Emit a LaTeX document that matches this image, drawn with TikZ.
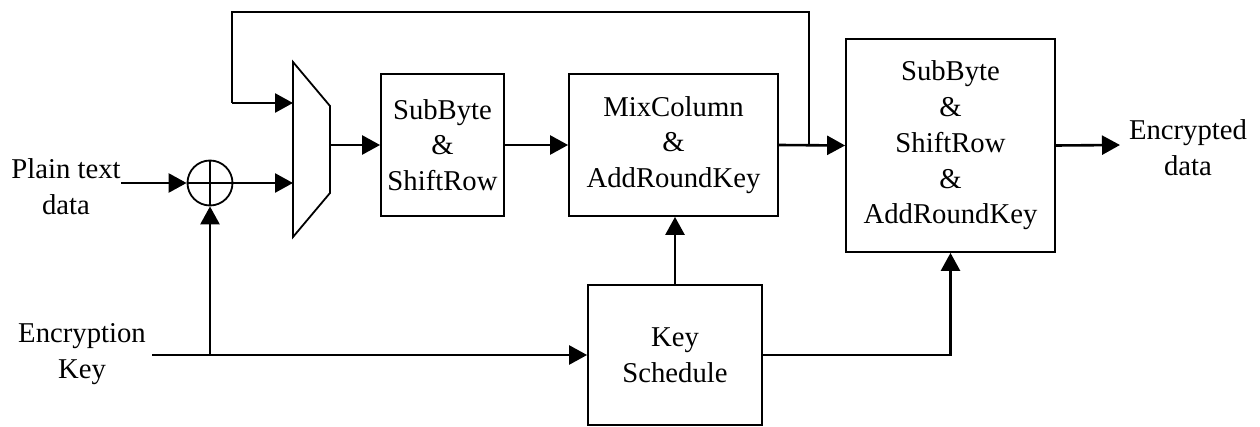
\documentclass[tikz,border=0pt]{standalone}
\usepackage{fontspec}
\setmainfont{Liberation Serif}
\usetikzlibrary{arrows.meta}
\begin{document}
\begin{tikzpicture}[x=0.5pt,y=-0.5pt,
  txt/.style={font=\fontsize{14.35pt}{17.85pt}\selectfont, align=center, inner sep=0pt},
  blk/.style={txt, draw, line width=0.9pt, minimum width=#1},
  conn/.style={line width=1.3pt, -{Triangle[length=9pt,width=9.5pt]}},
  plainline/.style={line width=1.3pt},
  fbline/.style={line width=0.8pt}]
\useasboundingbox (0,0) rectangle (1260,427);
% mux
\draw[line width=0.9pt] (293,62) -- (330,106) -- (330,193) -- (293,237) -- cycle;
\coordinate (m1) at (293,103);
\coordinate (m2) at (293,183);
\coordinate (mout) at (330,145);
% xor
\node[draw, circle, line width=0.9pt, minimum size=22.5pt, inner sep=0pt] (xor) at (210,183) {};
\draw[line width=0.9pt] (xor.north) -- (xor.south) (xor.west) -- (xor.east);
% blocks
\node[blk=61.5pt, minimum height=71pt] (sb) at (442.5,145) {SubByte\\\&\\ShiftRow};
\node[blk=104.5pt, minimum height=71pt] (mc) at (673.5,145) {MixColumn\\\&\\AddRoundKey};
\node[blk=87pt, minimum height=70pt] (ks) at (675,355) {Key\\Schedule};
\node[blk=104.5pt, minimum height=106.5pt] (fb) at (950.5,145.5) {SubByte\\\&\\ShiftRow\\\&\\AddRoundKey};
% labels
\node[txt] (pt) at (66,187) {Plain text\\data};
\node[txt] (ek) at (82,354) {Encryption\\Key};
\node[txt] (ed) at (1188,148) {Encrypted\\data};
\coordinate (pin) at (121,183);
\coordinate (kin) at (152,355);
\coordinate (kj) at (210,355);
\coordinate (fj) at (809,145);
\coordinate (fr) at (809,12);
\coordinate (fl) at (232,12);
\coordinate (fd) at (232,103);
\coordinate (out) at (1120,145);
% connectors
\draw[conn] (pin) -- (xor.west);
\draw[conn] (xor.east) -- (m2);
\draw[plainline] (kin) -- (kj);
\draw[conn] (kj) -- (ks.west);
\draw[conn] (kj) -- (xor.south);
\draw[conn] (mout) -- (sb.west);
\draw[conn] (sb.east) -- (mc.west);
\draw[conn] (mc.east) -- (fb.west);
\draw[fbline] (fj) -- (fr) -- (fl) -- (fd);
\draw[conn] (fd) -- (m1);
\draw[conn] (ks.north) -- (ks.north |- mc.south);
\draw[conn, rounded corners=0pt] (ks.east) -| (fb.south);
\draw[conn] (fb.east) -- (out);
\end{tikzpicture}
\end{document}
